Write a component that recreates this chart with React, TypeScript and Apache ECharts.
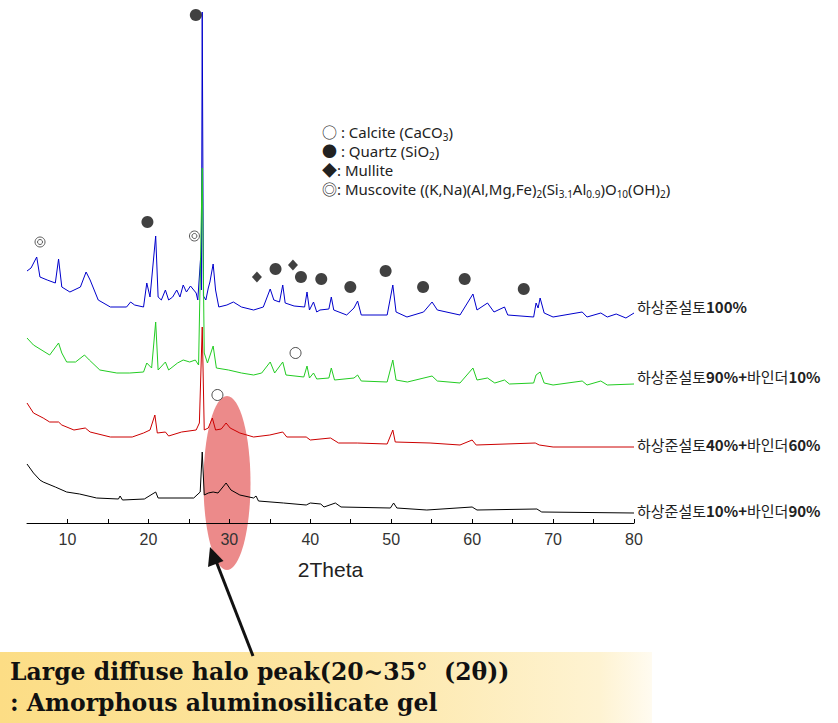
import React, { useEffect, useRef } from "react";
import * as echarts from "echarts";

// ---- data (2θ, relative intensity offset per pattern) ----
const seriesNames = [
  "하상준설토100%",
  "하상준설토90%+바인더10%",
  "하상준설토40%+바인더60%",
  "하상준설토10%+바인더90%",
];

const blueData: number[][] = [
  [5.0, 252], [5.5, 255], [6.2, 266], [6.6, 246], [7.5, 243], [8.5, 240], [8.9, 264], [9.3, 236],
  [10.3, 231], [11.6, 236], [12.3, 251], [12.8, 243], [13.8, 223], [15.3, 216], [17.3, 216], [17.8, 221],
  [18.3, 218], [19.4, 216], [19.8, 240], [20.2, 226], [20.9, 287], [21.2, 226], [21.6, 223], [22.1, 233],
  [22.5, 223], [23.0, 226], [23.5, 233], [23.9, 226], [24.3, 238], [24.7, 231], [25.2, 237], [25.9, 230],
  [26.1, 223], [26.45, 265], [26.55, 233], [26.65, 511], [26.8, 227], [27.1, 223], [27.4, 235], [27.6, 241],
  [28.0, 259], [28.3, 233], [28.7, 216], [29.7, 218], [30.5, 221], [31.5, 216], [33.0, 213], [34.2, 216],
  [35.05, 234], [35.5, 223], [36.2, 221], [36.6, 238], [36.9, 220], [38.0, 217], [39.3, 216], [39.6, 231],
  [39.9, 213], [40.4, 221], [40.8, 211], [41.2, 213], [42.3, 214], [42.6, 226], [42.9, 213], [44.5, 208],
  [45.4, 215], [45.85, 222], [46.3, 208], [49.5, 208], [50.2, 238], [50.6, 211], [51.95, 206], [54.0, 211],
  [55.05, 221], [55.7, 213], [58.5, 208], [60.1, 229], [60.6, 213], [61.9, 220], [62.7, 211], [64.0, 216],
  [64.4, 208], [67.6, 206], [67.9, 220], [68.15, 215], [68.4, 225], [68.9, 210], [70.0, 206], [73.6, 211],
  [74.2, 206], [75.9, 210], [76.7, 206], [77.8, 209], [79.0, 205], [80.0, 210],
];

const greenData: number[][] = [
  [5.0, 185], [5.8, 178], [7.8, 168], [8.9, 180], [9.3, 170], [9.9, 161], [11.0, 161], [12.1, 168],
  [12.7, 163], [14.0, 153], [16.1, 150], [17.7, 150], [19.4, 151], [19.8, 160], [20.4, 155], [20.9, 201],
  [21.2, 153], [22.1, 161], [22.5, 153], [23.6, 160], [24.3, 163], [25.1, 161], [25.8, 163], [26.2, 158],
  [26.65, 355], [26.9, 170], [27.3, 160], [28.0, 177], [28.4, 155], [29.9, 153], [31.5, 150], [33.0, 148],
  [34.0, 150], [35.05, 161], [35.6, 150], [36.6, 161], [37.0, 148], [39.2, 146], [39.6, 157], [39.9, 145],
  [40.4, 150], [40.8, 144], [42.3, 145], [42.6, 155], [43.0, 143], [45.4, 145], [45.85, 148], [46.3, 142],
  [49.5, 141], [50.2, 163], [50.6, 143], [52.0, 141], [55.05, 147], [55.7, 142], [58.5, 140], [60.1, 155],
  [60.6, 143], [61.9, 145], [62.8, 140], [64.0, 143], [64.6, 139], [67.6, 140], [67.9, 148], [68.4, 151],
  [68.9, 140], [70.0, 138], [73.6, 142], [74.2, 138], [75.9, 142], [76.7, 138], [80.0, 139],
];

const redData: number[][] = [
  [5.0, 120], [5.8, 110], [7.0, 105], [7.8, 101], [8.9, 101], [9.3, 98], [10.8, 93], [12.2, 95],
  [12.8, 91], [15.3, 86], [18.0, 86], [19.4, 90], [20.2, 93], [20.8, 108], [21.1, 90], [22.1, 91],
  [22.5, 87], [24.1, 91], [25.9, 93], [26.3, 100], [26.65, 196], [26.9, 93], [27.4, 95], [27.9, 105],
  [28.3, 93], [29.0, 94], [29.6, 100], [30.1, 95], [31.3, 90], [33.0, 86], [35.0, 88], [36.6, 91],
  [37.1, 86], [39.5, 86], [40.0, 83], [42.5, 85], [43.5, 80], [45.8, 80], [49.5, 79], [50.2, 93],
  [50.5, 81], [54.8, 80], [58.5, 78], [60.0, 83], [60.5, 78], [67.8, 80], [68.3, 78], [70.0, 76],
  [80.0, 76],
];

const blackData: number[][] = [
  [5.0, 59], [5.8, 50], [6.6, 43], [7.0, 41], [8.5, 36], [9.9, 31], [11.5, 29], [13.6, 25],
  [16.3, 24], [16.5, 27], [16.8, 23], [19.5, 24], [20.9, 31], [21.2, 25], [25.6, 25], [26.4, 31],
  [26.65, 71], [26.9, 28], [27.4, 30], [28.0, 31], [28.6, 30], [29.6, 40], [30.2, 33], [31.3, 28],
  [33.0, 25], [33.3, 27], [33.6, 22], [36.7, 20], [39.5, 18], [40.0, 20], [41.3, 19], [41.7, 16],
  [43.1, 20], [43.8, 16], [49.9, 15], [50.3, 20], [50.7, 15], [54.4, 13], [60.0, 16], [60.6, 13],
  [68.0, 14], [68.6, 11], [80.0, 10],
];

// phase markers (2θ, height)
const quartzMarks: number[][] = [
  [25.86, 508], [19.88, 301], [35.71, 254], [38.85, 246], [41.36, 244],
  [44.95, 236], [49.31, 252], [53.94, 236], [59.08, 244], [66.38, 234],
];
const mulliteMarks: number[][] = [[33.41, 246], [37.86, 258]];
const muscoviteMarks: number[][] = [[6.61, 281], [25.69, 287]];
const calciteMarks: number[][] = [[38.18, 170], [28.53, 128]];

const xTicks = { min: 5, max: 80, interval: 5 };

const legendLines = [
  "○ : Calcite (CaCO{s|3})",
  "● : Quartz (SiO{s|2})",
  "◆: Mullite",
  "◎: Muscovite ((K,Na)(Al,Mg,Fe){s|2}(Si{s|3.1}Al{s|0.9})O{s|10}(OH){s|2})",
];

const noteLines = [
  "Large diffuse halo peak(20~35°  (2θ))",
  ": Amorphous aluminosilicate gel",
];

const xAxisTitle = "2Theta";

const lineColors = ["#0000CC", "#22CC22", "#CC0000", "#000000"];
const labelOffsets = [-7, -8, -3, -3];

export default function App() {
  const ref = useRef<HTMLDivElement>(null);

  useEffect(() => {
    if (!ref.current) return;
    const chart = echarts.init(ref.current, undefined, { renderer: "svg" });

    const dataSets = [blueData, greenData, redData, blackData];
    const lineSeries = dataSets.map((d, i) => ({
      type: "line",
      name: seriesNames[i],
      data: d,
      showSymbol: false,
      symbol: "none",
      silent: true,
      z: 2 + i * 0.1,
      lineStyle: { color: lineColors[i], width: 1 },
      itemStyle: { color: lineColors[i] },
      endLabel: {
        show: true,
        distance: 3,
        offset: [0, labelOffsets[i]],
        color: "#222",
        fontSize: 15,
        fontFamily: "'Noto Sans CJK KR', sans-serif",
        formatter: (p: any) => String(p.seriesName).replace(/([0-9%+]+)/g, "{b|$1}"),
        rich: {
          b: {
            fontWeight: "bold",
            fontSize: 15,
            color: "#222",
            fontFamily: "'Noto Sans CJK KR', sans-serif",
          },
        },
      },
    }));

    const scatterBase = { type: "scatter", silent: true, z: 5 };

    const option: any = {
      animation: false,
      backgroundColor: "#ffffff",
      grid: { left: 27, right: 204, top: 10, bottom: 200, containLabel: false, outerBoundsMode: "none" },
      xAxis: {
        type: "value",
        min: xTicks.min,
        max: xTicks.max,
        interval: xTicks.interval,
        splitLine: { show: false },
        axisLine: { show: true, lineStyle: { color: "#000", width: 1 } },
        axisTick: { show: true, inside: true, length: 4, lineStyle: { color: "#000" } },
        axisLabel: {
          color: "#333",
          fontSize: 16,
          margin: 8,
          fontFamily: "'Liberation Sans', Arial, sans-serif",
          formatter: (v: number) => (v % 10 === 0 ? String(v) : ""),
          showMinLabel: false,
        },
        name: xAxisTitle,
        nameLocation: "middle",
        nameGap: 36,
        nameTextStyle: {
          color: "#222",
          fontSize: 21,
          fontFamily: "'Liberation Sans', Arial, sans-serif",
        },
      },
      yAxis: { type: "value", min: 0, max: 513, show: false, splitLine: { show: false } },
      series: [
        ...lineSeries,
        {
          ...scatterBase,
          name: "Quartz",
          data: quartzMarks,
          symbol: "circle",
          symbolSize: 12,
          itemStyle: { color: "#111" },
        },
        {
          ...scatterBase,
          name: "Mullite",
          data: mulliteMarks,
          symbol: "diamond",
          symbolSize: [10, 11],
          itemStyle: { color: "#111" },
        },
        {
          ...scatterBase,
          name: "Muscovite",
          data: muscoviteMarks,
          symbol: "circle",
          symbolSize: 10,
          itemStyle: { color: "#fff", borderColor: "#333", borderWidth: 1 },
        },
        {
          ...scatterBase,
          name: "Muscovite inner",
          data: muscoviteMarks,
          symbol: "circle",
          symbolSize: 5,
          itemStyle: { color: "#fff", borderColor: "#333", borderWidth: 1 },
          z: 6,
        },
        {
          ...scatterBase,
          name: "Calcite",
          data: calciteMarks,
          symbol: "circle",
          symbolSize: 11,
          itemStyle: { color: "#fff", borderColor: "#222", borderWidth: 1 },
        },
      ],
      graphic: [
        {
          type: "ellipse",
          z: -1,
          shape: { cx: 227, cy: 483, rx: 23.5, ry: 87 },
          style: { fill: "#EC8A8A" },
          silent: true,
        },
        ...legendLines.map((t, i) => ({
          type: "text",
          x: 322,
          y: 132 + i * 19,
          silent: true,
          style: {
            text: t,
            fill: "#222",
            fontSize: 15,
            fontFamily: "'Noto Sans', 'Noto Sans CJK KR', sans-serif",
            verticalAlign: "middle",
            lineHeight: 19,
            rich: {
              s: {
                fontSize: 10,
                fill: "#222",
                lineHeight: 10,
                verticalAlign: "bottom",
                fontFamily: "'Noto Sans', sans-serif",
              },
            },
          },
        })),
        {
          type: "rect",
          silent: true,
          z: 10,
          shape: { x: 0, y: 652, width: 652, height: 71 },
          style: {
            fill: new echarts.graphic.LinearGradient(0, 0, 1, 0, [
              { offset: 0, color: "#FCDD85" },
              { offset: 0.55, color: "#FDE7A8" },
              { offset: 0.92, color: "#FEF3D2" },
              { offset: 1, color: "#FFFBF0" },
            ]),
          },
        },
        {
          type: "line",
          silent: true,
          z: 11,
          shape: { x1: 253, y1: 656, x2: 216, y2: 561 },
          style: { stroke: "#111", lineWidth: 3 },
        },
        {
          type: "polygon",
          silent: true,
          z: 11,
          shape: { points: [[210, 547], [223.5, 561], [208, 567]] },
          style: { fill: "#111" },
        },
        ...noteLines.map((t, i) => ({
          type: "text",
          silent: true,
          z: 12,
          x: 10,
          y: 672 + i * 31,
          style: {
            text: t,
            fill: "#111",
            fontSize: 23.5,
            fontWeight: "bold",
            fontFamily: "'DejaVu Serif', serif",
            verticalAlign: "middle",
          },
        })),
      ],
    };

    chart.setOption(option);
    return () => chart.dispose();
  }, []);

  return (
    <div
      ref={ref}
      style={{ position: "absolute", left: 0, top: 0, width: 838, height: 723 }}
    />
  );
}
